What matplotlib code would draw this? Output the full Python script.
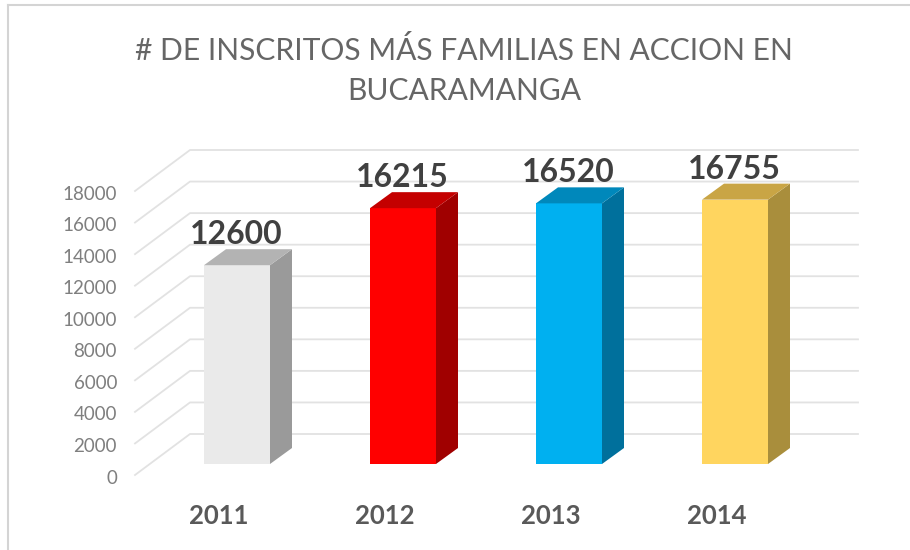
import matplotlib

matplotlib.use("Agg")
import matplotlib.pyplot as plt
from matplotlib.patches import Polygon

plt.rcParams["font.family"] = ["Lato", "DejaVu Sans"]

years = ["2011", "2012", "2013", "2014"]
inscritos = [12600, 16215, 16520, 16755]
y_ticks = [0, 2000, 4000, 6000, 8000, 10000, 12000, 14000, 16000, 18000]
title_lines = ["# DE INSCRITOS MÁS FAMILIAS EN ACCION EN", "BUCARAMANGA"]

front_colors = ["#EAEAEA", "#FF0000", "#00B0F0", "#FFD55F"]
top_colors = ["#B3B3B3", "#C40000", "#0088BB", "#C9A545"]
side_colors = ["#9A9A9A", "#A00000", "#00709C", "#A98E3C"]

W, H = 910, 550
PX_Y = 18000 / 284  # value units per pixel
PX_X = 1 / 166  # category units per pixel
BAR_W = 66 * PX_X
DEPTH_X = 22 * PX_X
DEPTH_Y = 16 * PX_Y
WALL_LEFT = -102 * PX_X
WALL_BACK_X = -47 * PX_X
WALL_RIGHT = 621 * PX_X
FLOOR_FRONT = -11 * PX_Y
WALL_BACK_Y = 30 * PX_Y


def main():
    fig = plt.figure(figsize=(W / 100, H / 100), dpi=100)
    ax = fig.add_axes([0, 0, 1, 1])
    ax.set_xlim(-237 * PX_X, (W - 237) * PX_X)
    ax.set_ylim(-(H - 464) * PX_Y, 464 * PX_Y)
    ax.axis("off")

    # chart frame
    ax.plot([-229 * PX_X, -229 * PX_X], [-(H - 464) * PX_Y, 459 * PX_Y], color="#D4D4D4", lw=1.5)
    ax.plot([-229 * PX_X, (W - 237) * PX_X], [459 * PX_Y, 459 * PX_Y], color="#D4D4D4", lw=1.5)

    for v in y_ticks:
        ax.plot(
            [WALL_LEFT, WALL_BACK_X, WALL_RIGHT],
            [v + FLOOR_FRONT, v + WALL_BACK_Y, v + WALL_BACK_Y],
            color="#E2E2E2",
            lw=1.3,
            zorder=1,
        )
        ax.text(-120 * PX_X, v - 14 * PX_Y, str(v), ha="right", va="center", fontsize=13.5, color="#7F7F7F")

    for i, val in enumerate(inscritos):
        x0 = i - BAR_W / 2
        x1 = i + BAR_W / 2
        ax.add_patch(Polygon([(x0, 0), (x1, 0), (x1, val), (x0, val)], fc=front_colors[i], ec="none", zorder=3))
        ax.add_patch(
            Polygon(
                [(x1, 0), (x1 + DEPTH_X, DEPTH_Y), (x1 + DEPTH_X, val + DEPTH_Y), (x1, val)],
                fc=side_colors[i],
                ec="none",
                zorder=3,
            )
        )
        ax.add_patch(
            Polygon(
                [(x0, val), (x1, val), (x1 + DEPTH_X, val + DEPTH_Y), (x0 + DEPTH_X, val + DEPTH_Y)],
                fc=top_colors[i],
                ec="none",
                zorder=3,
            )
        )
        ax.text(i - 1 * PX_X, val + 16 * PX_Y, str(val), ha="center", va="bottom", fontsize=23, fontweight="bold", color="#404040", zorder=4)
        ax.text(i - 18 * PX_X, -52 * PX_Y, years[i], ha="center", va="center", fontsize=18.5, fontweight="bold", color="#595959")

    title_x = 227 * PX_X
    ax.text(title_x, 413 * PX_Y, title_lines[0], ha="center", va="center", fontsize=21.6, color="#666666")
    ax.text(title_x, 373 * PX_Y, title_lines[1], ha="center", va="center", fontsize=21.6, color="#666666")

    fig.savefig("out.png", dpi=100)


if __name__ == "__main__":
    main()
